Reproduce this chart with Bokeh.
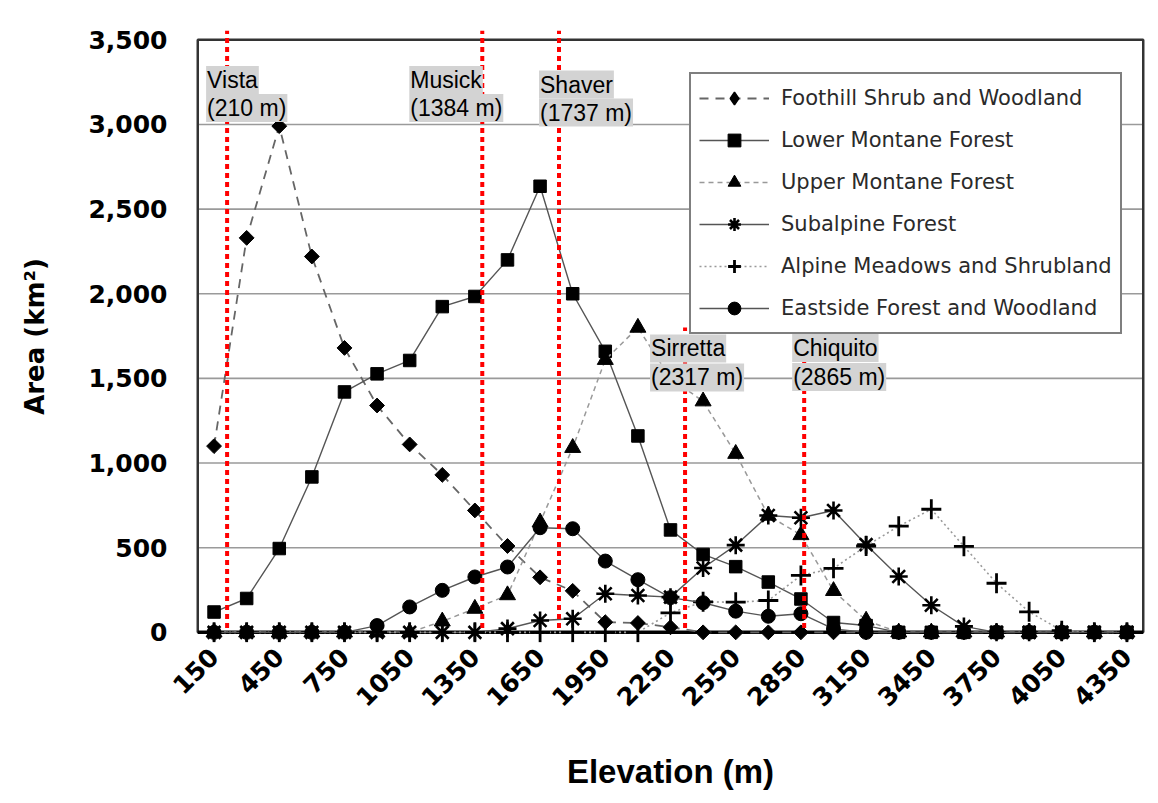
import math
from bokeh.plotting import figure
from bokeh.models import (Range1d, FixedTicker, NumeralTickFormatter, Legend,
                          LegendItem, Label)
from bokeh.embed import file_html
from bokeh.resources import INLINE

# ---------------- data ----------------
elevation = [150, 300, 450, 600, 750, 900, 1050, 1200, 1350, 1500, 1650, 1800,
             1950, 2100, 2250, 2400, 2550, 2700, 2850, 3000, 3150, 3300, 3450,
             3600, 3750, 3900, 4050, 4200, 4350]

foothill = [1100, 2330, 2990, 2220, 1680, 1340, 1110, 930, 720, 510, 325, 245,
            60, 55, 30, 0, 0, 0, 0, 0, 0, 0, 0, 0, 0, 0, 0, 0, 0]
lower_montane = [120, 200, 495, 918, 1420, 1527, 1606, 1924, 1984, 2200, 2635,
                 2000, 1660, 1160, 605, 460, 388, 297, 197, 58, 40, 0, 0, 0, 0,
                 0, 0, 0, 0]
upper_montane = [0, 0, 0, 0, 0, 0, 0, 65, 140, 220, 650, 1090, 1610, 1800, 1500,
                 1365, 1055, 690, 575, 245, 70, 0, 0, 0, 0, 0, 0, 0, 0]
subalpine = [0, 0, 0, 0, 0, 0, 0, 0, 0, 22, 70, 80, 228, 218, 208, 380, 515,
             690, 677, 720, 518, 330, 160, 35, 0, 0, 0, 0, 0]
alpine = [0, 0, 0, 0, 0, 0, 0, 0, 0, 0, 0, 0, 0, 0, 115, 180, 178, 188, 336,
          378, 510, 627, 727, 508, 290, 121, 10, 0, 0]
eastside = [0, 0, 0, 0, 0, 40, 150, 248, 327, 386, 618, 612, 421, 311, 205, 175,
            125, 95, 110, 20, 0, 0, 0, 0, 0, 0, 0, 0, 0]

series_names = ["Foothill Shrub and Woodland", "Lower Montane Forest",
                "Upper Montane Forest", "Subalpine Forest",
                "Alpine Meadows and Shrubland", "Eastside Forest and Woodland"]

x_tick_labels = [150, 450, 750, 1050, 1350, 1650, 1950, 2250, 2550, 2850, 3150,
                 3450, 3750, 4050, 4350]
y_ticks = [0, 500, 1000, 1500, 2000, 2500, 3000, 3500]

station_names = ["Vista", "Musick", "Shaver", "Sirretta", "Chiquito"]
station_elev = [210, 1384, 1737, 2317, 2865]

# ---------------- layout / style (not data) ----------------
label_dx = [-21, -73, -20, -35, -12]                      # px
label_y = [(3262, 3097), (3262, 3097), (3236, 3070), (1677, 1506), (1679, 1508)]
line_top = [3555, 3555, 3555, 1800, 1800]
line_bottom = 25

styles = [
    dict(line=dict(line_color="#666666", line_width=1.8, line_dash="9 7"),
         marker=dict(marker="square", size=10.5, angle=math.pi / 4),
         legend_marker=dict(marker="diamond", line_width=1.5)),
    dict(line=dict(line_color="#555555", line_width=1.4),
         marker=dict(marker="square", size=12.5)),
    dict(line=dict(line_color="#999999", line_width=1.5, line_dash="5 4"),
         marker=dict(marker="triangle", size=16)),
    dict(line=dict(line_color="#555555", line_width=1.4),
         marker=dict(marker="asterisk", size=18, line_width=2.6)),
    dict(line=dict(line_color="#999999", line_width=1.6, line_dash="2 3"),
         marker=dict(marker="cross", size=20, line_width=2.8)),
    dict(line=dict(line_color="#555555", line_width=1.4),
         marker=dict(marker="circle", size=14)),
]

W, H = 1158, 803
FRAME_L, FRAME_B = 194, 642

half = (elevation[1] - elevation[0]) / 2
x_lo, x_hi = elevation[0] - half, elevation[-1] + half

p = figure(width=W, height=H, output_backend="svg", toolbar_location=None,
           x_range=Range1d(x_lo - 15, x_hi + 15), y_range=Range1d(-60, 3555),
           min_border_left=FRAME_L, min_border_right=12, min_border_top=30,
           min_border_bottom=H - FRAME_B, background_fill_color="white",
           border_fill_color="white")
p.outline_line_color = None
p.xgrid.visible = False
p.ygrid.visible = False

# gridlines
grid_y = y_ticks[1:-1]
p.segment(x0=[x_lo] * len(grid_y), x1=[x_hi] * len(grid_y), y0=grid_y, y1=grid_y,
          line_color="#9a9a9a", line_width=1.6)
# plot box
p.quad(left=[x_lo], right=[x_hi], bottom=[y_ticks[0]], top=[y_ticks[-1]],
       fill_color=None, line_color="#333333", line_width=2.5)
p.segment(x0=[x_lo], x1=[x_hi], y0=[y_ticks[0]], y1=[y_ticks[0]],
          line_color="black", line_width=3.5)

all_series = [foothill, lower_montane, upper_montane, subalpine, alpine, eastside]
items = []
for name, ys, st in zip(series_names, all_series, styles):
    lr = p.line(elevation, ys, **st["line"])
    sr = p.scatter(elevation, ys, fill_color="black", line_color="black",
                   **st["marker"])
    rends = [lr, sr]
    if "legend_marker" in st:
        # off-range proxy so that the legend shows an upright diamond
        proxy = p.scatter([x_lo - 3000], [ys[0]], fill_color="black",
                          line_color="black", **st["legend_marker"])
        rends = [lr, proxy]
    items.append(LegendItem(label=name, renderers=rends))

# station lines
p.segment(x0=station_elev, x1=station_elev, y0=[line_bottom] * len(station_elev),
          y1=line_top, line_color="#ff0000", line_width=4, line_dash="5 4")

for name, elev, dx, (yn, yv) in zip(station_names, station_elev, label_dx, label_y):
    for txt, yy in ((name, yn), (f"({elev} m)", yv)):
        p.add_layout(Label(x=elev, y=yy, x_offset=dx, text=txt, text_align="left",
                           text_baseline="middle", text_font="Liberation Sans",
                           text_font_size="23px", text_color="black",
                           background_fill_color="#d3d3d3", padding=1))

legend = Legend(items=items, location=(495, 308), glyph_width=70, glyph_height=32,
                label_height=32, label_standoff=12, spacing=10, padding=8,
                margin=0, label_text_font="DejaVu Sans",
                label_text_font_size="21px", label_text_color="#2a2a2a",
                border_line_color="black", border_line_width=2.5,
                background_fill_color="white", background_fill_alpha=1.0)
p.add_layout(legend, "center")

# thin frame around the whole picture (empty label with a large padding)
try:
    p.add_layout(Label(x=W / 2 - FRAME_L, y=FRAME_B - H / 2, x_units="screen",
                       y_units="screen", text=" ", text_font_size="1px",
                       text_align="center", text_baseline="middle",
                       border_line_color="#222222", border_line_width=1.5,
                       padding=(574, 399)))
except Exception:
    pass

# axes
p.xaxis.ticker = FixedTicker(ticks=x_tick_labels)
p.xaxis.major_label_orientation = math.pi / 4
p.xaxis.axis_label = "Elevation (m)"
p.yaxis.ticker = FixedTicker(ticks=y_ticks)
p.yaxis.formatter = NumeralTickFormatter(format="0,0")
p.yaxis.axis_label = "Area (km²)"
for ax in (p.xaxis[0], p.yaxis[0]):
    ax.axis_line_color = None
    ax.major_tick_line_color = None
    ax.minor_tick_line_color = None
    ax.major_tick_out = 0
    ax.major_tick_in = 0
    ax.minor_tick_out = 0
    ax.major_label_text_font = "DejaVu Sans"
    ax.major_label_text_font_style = "bold"
    ax.major_label_text_font_size = "25px"
    ax.major_label_text_color = "black"
    ax.axis_label_text_font_style = "bold"
    ax.axis_label_text_color = "black"
p.xaxis.major_label_standoff = 10
p.xaxis.axis_label_text_font = "Liberation Sans"
p.xaxis.axis_label_text_font_size = "33px"
p.xaxis.axis_label_standoff = 36
p.yaxis.major_label_standoff = 27
p.yaxis.axis_label_text_font = "DejaVu Sans"
p.yaxis.axis_label_text_font_size = "26px"
p.yaxis.axis_label_standoff = 35

open("out.html", "w").write(file_html(p, INLINE))
